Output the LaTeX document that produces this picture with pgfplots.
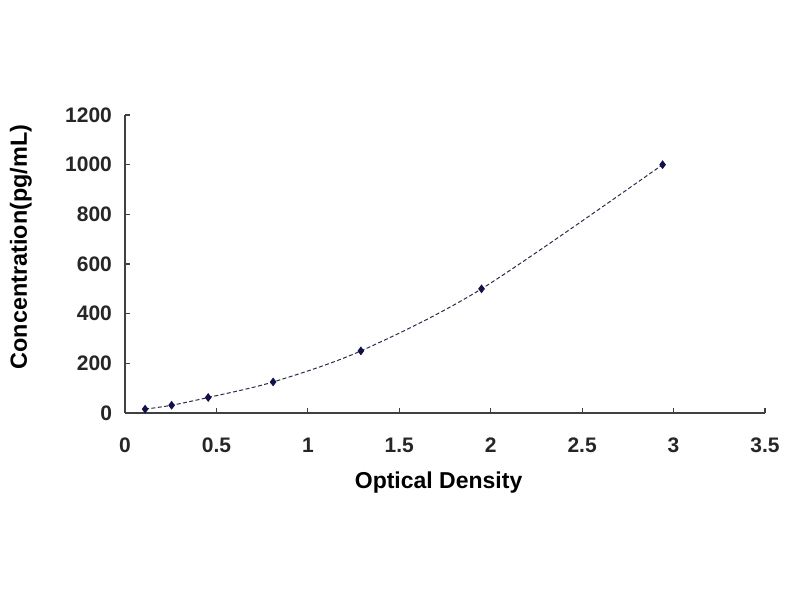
\documentclass[border=0pt]{standalone}
\usepackage{pgfplots}
\pgfplotsset{compat=1.18}
\usepackage{fontspec}
\setmainfont{Liberation Sans}
\definecolor{curve}{HTML}{2B2B4A}
\definecolor{marker}{HTML}{10104A}
\begin{document}
\begin{tikzpicture}
\path[use as bounding box] (-62.5pt,-93.5pt) rectangle (337.5pt,206.5pt);
\begin{axis}[
    at={(0,0)}, anchor=south west,
    scale only axis,
    width=320pt, height=149pt,
    xmin=0, xmax=3.5,
    ymin=0, ymax=1200,
    xtick={0,0.5,...,3.5},
    ytick={0,200,...,1200},
    axis lines=left,
    axis line style={-, color=black!75, line width=0.6pt},
    tick align=inside,
    major tick length=2.5pt,
    tick style={color=black!75, line width=0.6pt},
    /pgf/number format/assume math mode=true,
    /pgf/number format/1000 sep={},
    ticklabel style={font=\fontsize{10.5}{12}\selectfont\bfseries, text=black!85},
    yticklabel style={xshift=-3pt},
    xticklabel style={yshift=-9pt},
    xlabel={Optical Density},
    ylabel={Concentration(pg/mL)},
    xlabel style={font=\fontsize{11.5}{13}\selectfont\bfseries, at={(rel axis cs:0.49,-0.235)}, anchor=center},
    ylabel style={font=\fontsize{11.7}{13}\selectfont\bfseries, at={(rel axis cs:-0.1625,0.557)}, anchor=center, rotate=0},
    clip=false,
]
\addplot[
    color=curve, line width=0.5pt,
    dash pattern=on 2pt off 1.2pt,
    smooth, tension=0.5,
    mark=diamond*, mark size=1.8pt,
    mark options={solid, fill=marker, draw=marker},
    ]
    coordinates {
    (0.11,15.6)(0.255,31.2)(0.455,62.5)(0.81,125)(1.29,250)(1.95,500)(2.94,1000)};
\end{axis}
\end{tikzpicture}
\end{document}
